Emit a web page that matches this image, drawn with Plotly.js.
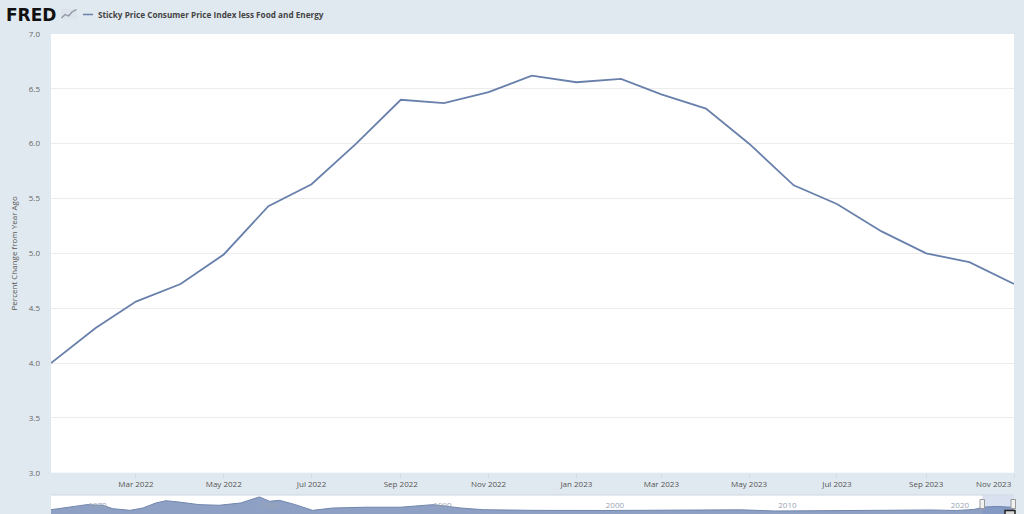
<!DOCTYPE html>
<html>
<head>
<meta charset="utf-8">
<script src="https://cdn.plot.ly/plotly-3.0.1.min.js"></script>
<style>html,body{margin:0;padding:0;background:#e1e9f0;}#chart{width:1024px;height:514px;}</style>
</head>
<body>
<div id="chart"></div>
<script>
// Main series: monthly, Jan 2022 - Nov 2023
const months = ['2022-01-01','2022-02-01','2022-03-01','2022-04-01','2022-05-01','2022-06-01','2022-07-01','2022-08-01','2022-09-01','2022-10-01','2022-11-01','2022-12-01',
                '2023-01-01','2023-02-01','2023-03-01','2023-04-01','2023-05-01','2023-06-01','2023-07-01','2023-08-01','2023-09-01','2023-10-01','2023-11-01'];
const stickyCore = [4.00, 4.32, 4.56, 4.72, 4.99, 5.43, 5.63, 6.00, 6.40, 6.37, 6.47, 6.62,
                    6.56, 6.59, 6.45, 6.32, 6.00, 5.62, 5.45, 5.20, 5.00, 4.92, 4.72];
const xTickVals = ['2022-03-01','2022-05-01','2022-07-01','2022-09-01','2022-11-01','2023-01-01','2023-03-01','2023-05-01','2023-07-01','2023-09-01','2023-11-01'];
const xTickText = ['Mar 2022','May 2022','Jul 2022','Sep 2022','Nov 2022','Jan 2023','Mar 2023','May 2023','Jul 2023','Sep 2023','Nov 2023'];
const yTickVals = [3.0,3.5,4.0,4.5,5.0,5.5,6.0,6.5,7.0];

// Navigator (full history thumbnail), approximate readings
const navDates = ['1968-01-01','1969-01-01','1970-02-01','1971-01-01','1971-08-01','1972-08-01','1973-05-01','1974-02-01','1974-09-01','1975-06-01',
                  '1976-08-01','1977-10-01','1979-01-01','1980-02-01','1980-09-01','1981-04-01','1982-03-01','1983-03-01','1984-05-01','1986-04-01',
                  '1988-04-01','1990-03-01','1991-10-01','1993-02-01','1996-01-01','2000-01-01','2003-01-01','2006-01-01','2008-01-01','2010-01-01',
                  '2013-01-01','2016-01-01','2019-01-01','2020-07-01','2021-07-01','2022-03-01','2022-12-01','2023-06-01','2023-11-01'];
const navValues = [3.3, 5.2, 7.2, 6.7, 4.1, 2.8, 4.6, 8.5, 10.2, 9.2,
                   7.2, 6.7, 8.5, 13.1, 9.8, 10.5, 7.2, 2.8, 4.6, 5.2,
                   5.2, 7.2, 4.6, 3.3, 2.8, 2.7, 2.8, 3.1, 3.2, 2.3,
                   2.7, 2.9, 3.1, 2.7, 3.5, 5.4, 5.8, 5.4, 5.0];
const navTickVals = ['1970-01-01','1980-01-01','1990-01-01','2000-01-01','2010-01-01','2020-01-01'];
const navTickText = ['1970','1980','1990','2000','2010','2020'];

const seriesName = 'Sticky Price Consumer Price Index less Food and Energy';
const yTitle = 'Percent Change from Year Ago';

// pixel helpers for decorations (plot area 51..1014 x 34..514)
const L = 51, R = 1014, T = 34, B = 514;
const px = v => (v - L) / (R - L);
const py = v => (B - v) / (B - T);

const lineColor = '#6880ab';
const last = xTickText.length - 1;
// last label is right-aligned at the edge (drawn as annotation), like Highcharts does
const tickText = xTickText.map((t, i) => i === last ? '' : t);

const traces = [
  {x: months, y: stickyCore, type: 'scatter', mode: 'lines', name: seriesName,
   line: {color: lineColor, width: 1.8}, xaxis: 'x', yaxis: 'y', hoverinfo: 'x+y'},
  {x: navDates, y: navValues, type: 'scatter', mode: 'lines', fill: 'tozeroy',
   fillcolor: '#8ea1c4', line: {color: '#7086ae', width: 1}, xaxis: 'x2', yaxis: 'y2', hoverinfo: 'skip'}
];

const layout = {
  width: 1024, height: 514,
  margin: {l: L, r: 1024 - R, t: T, b: 0},
  paper_bgcolor: '#e1e9f0', plot_bgcolor: '#ffffff',
  showlegend: false,
  font: {family: 'Open Sans, sans-serif', size: 8, color: '#666'},
  xaxis: {
    type: 'date', range: [months[0], months[months.length - 1]],
    tickvals: xTickVals, ticktext: tickText, tickangle: 0,
    showgrid: false, zeroline: false, showline: false,
    ticks: 'outside', ticklen: 4, tickcolor: '#d4dbe4',
    tickfont: {family: 'Open Sans, sans-serif', size: 8, color: '#555'},
    anchor: 'y', automargin: false, fixedrange: true
  },
  yaxis: {
    domain: [py(472.7), 1], range: [3, 7],
    tickvals: yTickVals, tickformat: '.1f',
    showgrid: true, gridcolor: '#ececec', gridwidth: 1,
    zeroline: false, showline: false, ticks: '', ticklabelstandoff: 10,
    tickfont: {family: 'Open Sans, sans-serif', size: 8, color: '#666'},
    title: {text: yTitle, font: {family: 'Open Sans, sans-serif', size: 8, color: '#555'}, standoff: 9},
    automargin: false, fixedrange: true
  },
  xaxis2: {
    type: 'date', range: ['1968-01-01', '2023-11-01'], anchor: 'y2',
    tickvals: navTickVals, ticktext: navTickText, ticks: '', ticklabelposition: 'inside',
    ticklabelshift: 12, ticklabelstandoff: 1,
    tickfont: {family: 'Open Sans, sans-serif', size: 8, color: '#9aa4b4'},
    showgrid: false, zeroline: false, showline: false, automargin: false, fixedrange: true
  },
  yaxis2: {
    domain: [0, py(495)], range: [0, 14.6], anchor: 'x2',
    showticklabels: false, showgrid: false, zeroline: false, showline: false, fixedrange: true
  },
  shapes: [
    {type: 'line', xref: 'paper', yref: 'paper', x0: 0, x1: 1, y0: py(495), y1: py(495), line: {color: '#cdd6e0', width: 1}},
    {type: 'rect', xref: 'x2', yref: 'paper', x0: months[0], x1: months[months.length - 1], y0: 0, y1: py(495.5),
     fillcolor: 'rgba(102,133,194,0.25)', line: {width: 0}},
    {type: 'rect', xref: 'paper', yref: 'paper', x0: px(980), x1: px(984.5), y0: py(508.5), y1: py(499.5),
     fillcolor: '#f2f2f2', line: {color: '#999', width: 1}},
    {type: 'rect', xref: 'paper', yref: 'paper', x0: px(1011), x1: px(1015.5), y0: py(508.5), y1: py(499.5),
     fillcolor: '#f2f2f2', line: {color: '#999', width: 1}},
    {type: 'rect', xref: 'paper', yref: 'paper', x0: px(1005), x1: px(1015), y0: py(515), y1: py(510.5),
     fillcolor: '#d8d8d8', line: {color: '#222', width: 1.5}},
    {type: 'line', xref: 'paper', yref: 'paper', x0: px(83), x1: px(93), y0: py(14.5), y1: py(14.5), line: {color: lineColor, width: 1.5}},
    {type: 'rect', xref: 'paper', yref: 'paper', x0: px(61), x1: px(77), y0: py(19), y1: py(9),
     fillcolor: '#dde3ea', line: {width: 0}},
    {type: 'path', xref: 'paper', yref: 'paper',
     path: 'M ' + px(61.5) + ' ' + py(18) + ' L ' + px(65) + ' ' + py(14.5) + ' L ' + px(68.5) + ' ' + py(16) + ' L ' + px(72) + ' ' + py(12) + ' L ' + px(76.5) + ' ' + py(9.5),
     line: {color: '#8d96a3', width: 1.3}}
  ],
  annotations: [
    {text: '<b>FRED</b>', xref: 'paper', yref: 'paper', x: px(4), y: py(14.5), xanchor: 'left', yanchor: 'middle',
     showarrow: false, font: {family: 'DejaVu Sans, sans-serif', size: 17, color: '#111'}},
    {text: '<b>' + seriesName + '</b>', xref: 'paper', yref: 'paper', x: px(96), y: py(14.5), xanchor: 'left', yanchor: 'middle',
     showarrow: false, font: {family: 'Open Sans, sans-serif', size: 8.2, color: '#444'}},
    {text: xTickText[last], xref: 'x', yref: 'paper', x: xTickVals[last], y: py(483.5), xanchor: 'right', yanchor: 'middle',
     showarrow: false, font: {family: 'Open Sans, sans-serif', size: 8, color: '#555'}}
  ]
};

Plotly.newPlot('chart', traces, layout, {displayModeBar: false, staticPlot: true});
</script>
</body>
</html>
